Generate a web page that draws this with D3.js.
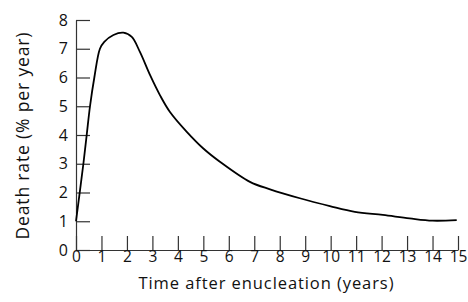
<!DOCTYPE html>
<html><head><meta charset="utf-8">
<script src="https://cdn.jsdelivr.net/npm/d3@7"></script>
<style>
body{margin:0;background:#fff;}
text{font-family:"Open Sans","DejaVu Sans",sans-serif;}
</style></head>
<body><svg id="c" width="468" height="302"></svg>
<script>
const years = [0, 0.29, 0.42, 0.55, 0.72, 0.94, 1.11, 1.47, 1.86, 2.19, 2.51, 2.91, 3.30, 3.69, 4.35, 5.0, 5.65, 6.83, 7.62, 8.79, 9.97, 10.95, 12.05, 13.1, 14.0, 14.95];
const deathRate = [1, 3, 4, 5, 6, 7, 7.24, 7.48, 7.56, 7.41, 6.89, 6.08, 5.38, 4.80, 4.11, 3.53, 3.07, 2.37, 2.11, 1.80, 1.53, 1.33, 1.22, 1.10, 1.02, 1.04];
const xTicks = d3.range(0, 16);
const yTicks = d3.range(0, 9);
const xTitle = "Time after enucleation (years)";
const yTitle = "Death rate (% per year)";

const svg = d3.select("#c");
const x = d3.scaleLinear().domain([0, 15]).range([76, 458]);
const y = d3.scaleLinear().domain([0, 8]).range([250, 20]);

const gy = svg.append("g").attr("transform", "translate(76,0)")
  .call(d3.axisLeft(y).tickValues(yTicks).tickSizeInner(-14).tickSizeOuter(0).tickPadding(8));
const gx = svg.append("g").attr("transform", "translate(0,250)")
  .call(d3.axisBottom(x).tickValues(xTicks).tickSizeInner(-14).tickSizeOuter(0).tickPadding(1));
[gx, gy].forEach(g => {
  g.selectAll("path,line").attr("stroke", "#333").attr("stroke-width", 1.2);
  g.selectAll("text").attr("font-size", 16).attr("fill", "#111")
    .style("font-family", "'Open Sans','DejaVu Sans',sans-serif");
});
gx.selectAll("text").attr("font-size", 15.5);

const line = d3.line().x((d, i) => x(years[i])).y(d => y(d)).curve(d3.curveCatmullRom.alpha(0.5));
svg.append("path").datum(deathRate).attr("d", line)
  .attr("fill", "none").attr("stroke", "#000").attr("stroke-width", 1.8);

svg.append("text").attr("x", 266).attr("y", 289).attr("text-anchor", "middle")
  .attr("font-size", 16.5).attr("fill", "#111")
  .attr("textLength", 255).attr("lengthAdjust", "spacing").text(xTitle);
svg.append("text").attr("transform", "translate(29,136) rotate(-90)")
  .attr("text-anchor", "middle").attr("font-size", 17.5).attr("fill", "#111")
  .attr("textLength", 207).attr("lengthAdjust", "spacing").text(yTitle);
</script></body></html>
